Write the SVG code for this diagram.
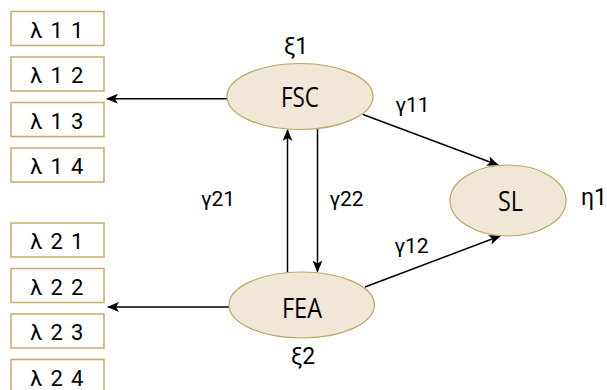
<svg xmlns="http://www.w3.org/2000/svg" width="607" height="390" viewBox="0 0 607 390">
<defs>
<style>
.box{fill:#ffffff;stroke:#c6ad6e;stroke-width:1.5}
.ell{fill:#f1e7d6;stroke:#bfa464;stroke-width:1.2}
.lt{font-family:Roboto,"Liberation Sans",sans-serif;font-size:22px;fill:#000;text-anchor:middle;letter-spacing:1.3px}
.nt{font-family:"Open Sans","Liberation Sans",sans-serif;font-size:28px;font-weight:500;fill:#000;text-anchor:middle}
.gt{font-family:Roboto,"Liberation Sans",sans-serif;font-size:21px;fill:#000}
.xi{font-size:23px}
.edge{stroke:#000;stroke-width:1.5;fill:none;marker-end:url(#ah)}
</style>
<marker id="ah" viewBox="0 0 12 10" refX="11" refY="5" markerWidth="12" markerHeight="10" markerUnits="userSpaceOnUse" orient="auto">
<path d="M0,0 L12,5 L0,10 L3,5 Z" fill="#000"/>
</marker>
</defs>
<rect width="607" height="390" fill="#ffffff"/>

<g id="connectors">
<line class="edge" x1="227" y1="98.7" x2="107" y2="98.7"/>
<line class="edge" x1="229" y1="307" x2="108" y2="307"/>
<line class="edge" x1="287.5" y1="272.6" x2="287.5" y2="130"/>
<line class="edge" x1="317.5" y1="128.5" x2="317.5" y2="271.5"/>
<line class="edge" x1="363" y1="114.5" x2="498" y2="165"/>
<line class="edge" x1="365" y1="287" x2="500" y2="236"/>
</g>

<g id="lambda11"><rect class="box" x="11" y="11.5" width="93" height="34"/><text class="lt" x="57.5" y="37.5">λ 1 1</text></g>
<g id="lambda12"><rect class="box" x="11" y="57" width="93" height="34"/><text class="lt" x="57.5" y="83">λ 1 2</text></g>
<g id="lambda13"><rect class="box" x="11" y="102.5" width="93" height="34"/><text class="lt" x="57.5" y="128.5">λ 1 3</text></g>
<g id="lambda14"><rect class="box" x="11" y="148" width="93" height="34"/><text class="lt" x="57.5" y="174">λ 1 4</text></g>
<g id="lambda21"><rect class="box" x="11" y="223" width="93" height="34"/><text class="lt" x="57.5" y="249">λ 2 1</text></g>
<g id="lambda22"><rect class="box" x="11" y="268.5" width="93" height="34"/><text class="lt" x="57.5" y="294.5">λ 2 2</text></g>
<g id="lambda23"><rect class="box" x="11" y="314" width="93" height="34"/><text class="lt" x="57.5" y="340">λ 2 3</text></g>
<g id="lambda24"><rect class="box" x="11" y="359.5" width="93" height="34"/><text class="lt" x="57.5" y="385.5">λ 2 4</text></g>

<g id="FSC"><ellipse class="ell" cx="300" cy="96.5" rx="73" ry="33"/><text class="nt" x="300" y="106.5" textLength="38" lengthAdjust="spacingAndGlyphs">FSC</text></g>
<g id="FEA"><ellipse class="ell" cx="301.7" cy="305" rx="72.7" ry="33"/><text class="nt" x="302" y="317.5" textLength="40" lengthAdjust="spacingAndGlyphs">FEA</text></g>
<g id="SL"><ellipse class="ell" cx="508" cy="200.5" rx="58" ry="35.5"/><text class="nt" x="510.5" y="210.5" textLength="25" lengthAdjust="spacingAndGlyphs">SL</text></g>

<g id="labels">
<text class="gt xi" x="284" y="53.5">ξ1</text>
<text class="gt xi" x="291" y="364">ξ2</text>
<text class="gt" x="201" y="206">γ21</text>
<text class="gt" x="329.5" y="206">γ22</text>
<text class="gt" x="395.5" y="111.5">γ11</text>
<text class="gt" x="394.5" y="253.3">γ12</text>
<text class="gt xi" x="581" y="205">η1</text>
</g>
</svg>
